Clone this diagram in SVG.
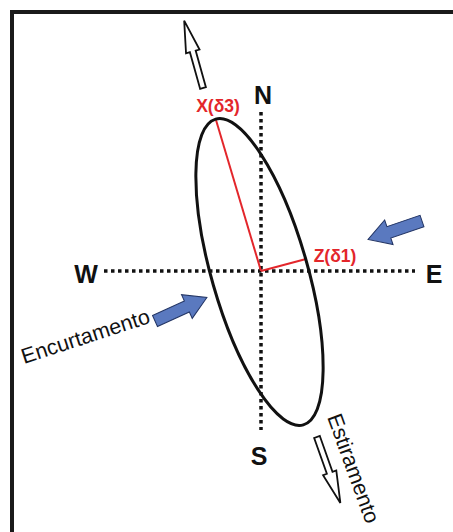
<svg xmlns="http://www.w3.org/2000/svg" width="453" height="532" viewBox="0 0 453 532">
<defs>
<style>
.frame{fill:none;stroke:#1a1a1a;stroke-width:4}
.dot{fill:none;stroke:#111;stroke-width:3.5;stroke-dasharray:3.5 3.5}
.ell{fill:none;stroke:#111;stroke-width:3}
.red{fill:none;stroke:#e3262b;stroke-width:2}
.hollow{fill:#fff;stroke:#111;stroke-width:1.8;stroke-linejoin:miter}
.blue{fill:#5a79bf;stroke:#233564;stroke-width:1}
.dir{font-family:"Liberation Sans",Arial,sans-serif;font-weight:bold;font-size:25px;fill:#111;text-anchor:middle}
.axis{font-family:"Liberation Sans",Arial,sans-serif;font-weight:bold;font-size:17.5px;fill:#e3262b;text-anchor:middle}
.lbl{font-family:"Liberation Sans",Arial,sans-serif;font-size:21.5px;fill:#111}
</style>
<polygon id="hol" points="-3,0 -3,-38 -7,-38 0,-70 7,-38 3,-38 3,0"/>
<polygon id="blk" points="0,-6 35,-6 35,-13 57,0 35,13 35,6 0,6"/>
</defs>
<path class="frame" d="M12,532 V12 H453"/>
<g id="connectors">
<line class="dot" x1="261" y1="112" x2="261" y2="430"/>
<line class="dot" x1="104" y1="271" x2="415" y2="271"/>
<line class="red" x1="261" y1="271" x2="216" y2="120"/>
<line class="red" x1="261" y1="271" x2="306" y2="259"/>
</g>
<g id="ellipse">
<ellipse class="ell" cx="259.5" cy="272" rx="48" ry="159" transform="rotate(-16 259.5 272)"/>
</g>
<g id="N"><text class="dir" x="263" y="104">N</text></g>
<g id="S"><text class="dir" x="259" y="465">S</text></g>
<g id="W"><text class="dir" x="86" y="283">W</text></g>
<g id="E"><text class="dir" x="434" y="283">E</text></g>
<g id="X"><text class="axis" x="218" y="112">X(δ3)</text></g>
<g id="Z"><text class="axis" x="335" y="262">Z(δ1)</text></g>
<g id="arrow-top"><use href="#hol" class="hollow" transform="translate(203,88) rotate(-15.6)"/></g>
<g id="arrow-bottom"><use href="#hol" class="hollow" transform="translate(317,437) rotate(160.5)"/></g>
<g id="arrow-east"><use href="#blk" class="blue" transform="translate(422,221) rotate(161.2)"/></g>
<g id="arrow-west"><use href="#blk" class="blue" transform="translate(155,321) rotate(-24.4)"/></g>
<g id="encurtamento"><text class="lbl" transform="translate(24,364) rotate(-18)">Encurtamento</text></g>
<g id="estiramento"><text class="lbl" transform="translate(327,417) rotate(70)">Estiramento</text></g>
</svg>
